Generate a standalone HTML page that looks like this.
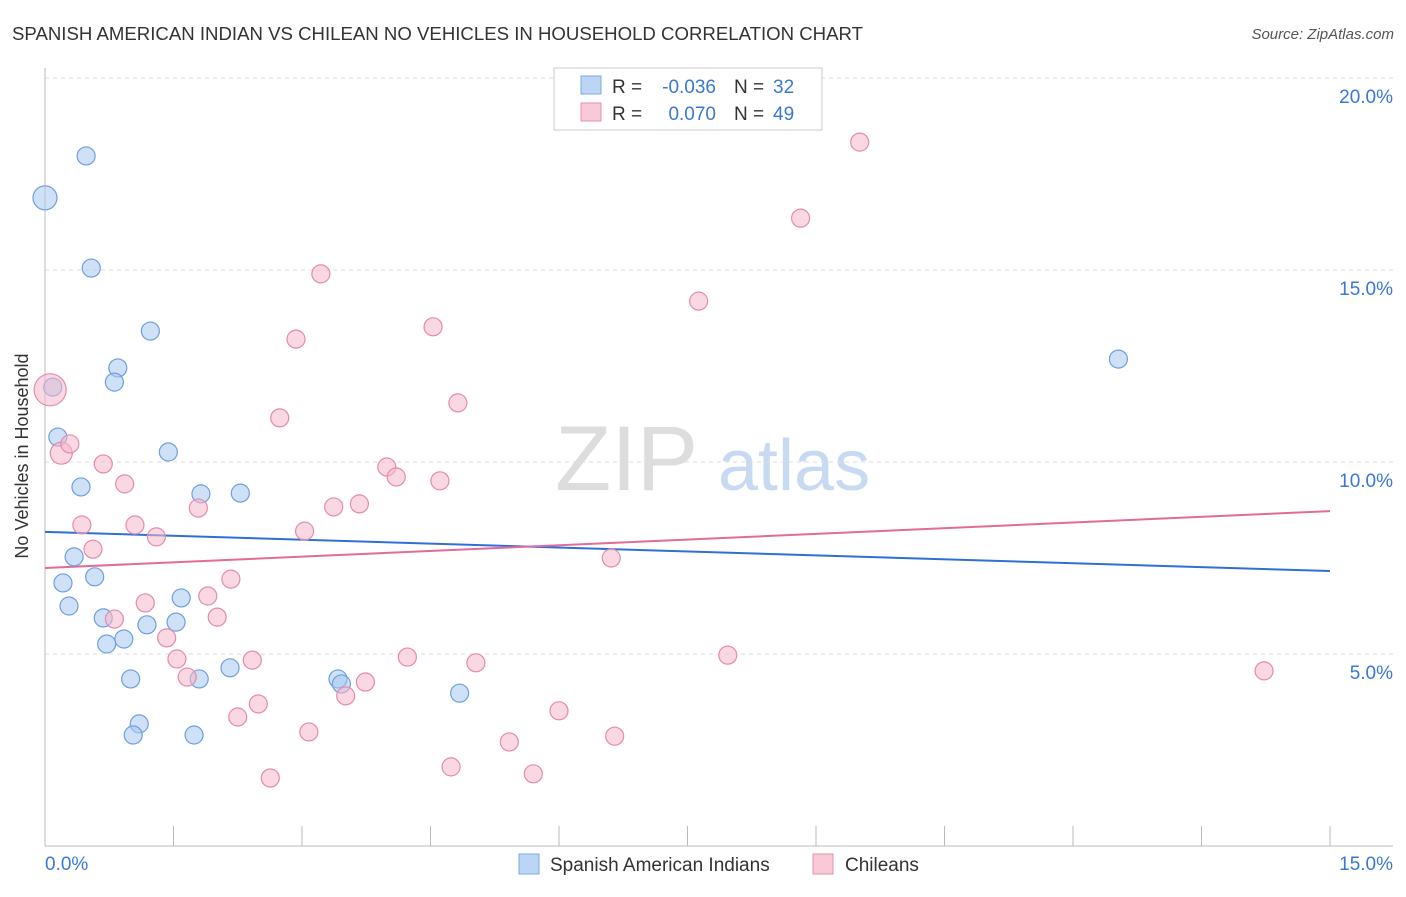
<!DOCTYPE html>
<html><head><meta charset="utf-8"><style>
body{margin:0;background:#fff;font-family:"Liberation Sans",sans-serif}
svg text{font-family:"Liberation Sans",sans-serif}
</style></head><body>
<svg id="c" width="1406" height="892" xmlns="http://www.w3.org/2000/svg">
<text x="12" y="40" font-size="18" fill="#333" textLength="851" lengthAdjust="spacingAndGlyphs">SPANISH AMERICAN INDIAN VS CHILEAN NO VEHICLES IN HOUSEHOLD CORRELATION CHART</text>
<text x="1394" y="39" font-size="15" font-style="italic" fill="#555" text-anchor="end">Source: ZipAtlas.com</text>
<g><text x="555" y="490" font-size="92" font-family="Liberation Serif" fill="#ddd">ZIP</text><text x="718" y="490" font-size="72" fill="#c8daf2">atlas</text></g>
<g id="grid"></g><g id="axes"></g><g id="lines"></g><g id="pts"></g>
<text x="28" y="456" font-size="18" fill="#333" text-anchor="middle" transform="rotate(-90 28 456)">No Vehicles in Household</text>
<g>
<rect x="554" y="68" width="268" height="62" fill="#fff" stroke="#ccc"/>
<rect x="581" y="76" width="20" height="18" fill="#bcd4f5" stroke="#7fa8e0"/>
<rect x="581" y="103" width="20" height="18" fill="#f9c9d8" stroke="#e890ae"/>
<text x="612" y="93" font-size="19" fill="#333">R =</text>
<text x="716" y="93" font-size="19" fill="#3a78d6" text-anchor="end">-0.036</text>
<text x="734" y="93" font-size="19" fill="#333">N =</text>
<text x="773" y="93" font-size="19" fill="#3a78d6">32</text>
<text x="612" y="120" font-size="19" fill="#333">R =</text>
<text x="716" y="120" font-size="19" fill="#3a78d6" text-anchor="end">0.070</text>
<text x="734" y="120" font-size="19" fill="#333">N =</text>
<text x="773" y="120" font-size="19" fill="#3a78d6">49</text>
</g>
<g>
<rect x="519" y="854" width="20" height="20" fill="#bcd4f5" stroke="#7fa8e0"/>
<text x="550" y="871" font-size="19" fill="#333">Spanish American Indians</text>
<rect x="813" y="854" width="20" height="20" fill="#f9c9d8" stroke="#e890ae"/>
<text x="845" y="871" font-size="19" fill="#333">Chileans</text>
</g>
</svg>
<script>
const blueX=[0.00,0.48,0.54,1.23,0.85,0.81,0.09,0.15,1.44,0.42,1.82,2.28,0.34,0.21,0.58,0.28,1.59,0.68,1.19,1.53,0.92,0.72,1.00,1.80,2.16,1.10,1.03,1.74,3.42,3.46,4.84,12.53];
const blueY=[16.88,17.97,15.05,13.41,12.45,12.08,11.95,10.65,10.26,9.35,9.17,9.19,7.53,6.85,7.01,6.25,6.46,5.94,5.76,5.83,5.39,5.26,4.35,4.35,4.64,3.18,2.89,2.89,4.35,4.22,3.98,12.68];
const pinkX=[0.06,0.19,0.29,0.43,0.56,0.68,0.93,1.05,1.30,0.81,1.17,1.42,1.54,1.66,1.79,1.90,2.01,2.17,2.25,2.42,2.49,2.63,2.74,2.93,3.03,3.08,3.22,3.37,3.51,3.67,3.74,3.99,4.10,4.23,4.53,4.61,4.74,4.82,5.03,5.42,5.70,6.00,6.61,6.65,7.63,7.97,8.82,9.51,14.23];
const pinkY=[11.88,10.23,10.47,8.36,7.73,9.95,9.43,8.36,8.05,5.91,6.33,5.42,4.87,4.40,8.80,6.51,5.96,6.95,3.36,4.84,3.70,1.77,11.15,13.20,8.20,2.97,14.90,8.83,3.91,8.91,4.27,9.87,9.61,4.92,13.52,9.51,2.06,11.54,4.77,2.71,1.88,3.52,7.50,2.86,14.19,4.97,16.35,18.33,4.56];
const blueTrend=[8.18,7.16];
const pinkTrend=[7.24,8.72];
const yTicks=[5,10,15,20];
const xTickLabels=["0.0%","15.0%"];
const NS="http://www.w3.org/2000/svg";
const sx=v=>45+v*85.667, sy=v=>846-v*38.4;
function mk(p,t,a){const e=document.createElementNS(NS,t);for(const k in a)e.setAttribute(k,a[k]);document.getElementById(p).appendChild(e);return e;}
yTicks.forEach(t=>{
 const l=mk('grid','line',{x1:45,x2:1393,y1:sy(t),y2:sy(t),stroke:'#ddd','stroke-dasharray':'4,4'});
 
 
 const tx=mk('grid','text',{x:1393,y:sy(t)+25,'font-size':19,fill:'#3a78d6','text-anchor':'end'});
 tx.textContent=t.toFixed(1)+'%';
 
 
});
let a=mk('axes','line',{x1:45,x2:45,y1:68,y2:846,stroke:'#bbb'});

a=mk('axes','line',{x1:45,x2:1393,y1:846,y2:846,stroke:'#bbb'});

for(let i=0;i<=10;i++){const t=mk('axes','line',{x1:sx(i*1.5),x2:sx(i*1.5),y1:826,y2:846,stroke:'#bbb'});
 }
[[0,'start',45],[15,'end',1393]].forEach((d,i)=>{const t=mk('axes','text',{x:d[2],y:870,'font-size':19,fill:'#3a78d6','text-anchor':d[1]});
 t.textContent=xTickLabels[i];});
function pts(X,Y,fill,stroke,name,big){X.forEach((x,i)=>{const c=mk('pts','circle',{cx:sx(x),cy:sy(Y[i]),r:(big[i]||9),fill:fill,'fill-opacity':0.55,stroke:stroke,'stroke-width':1.2});
 });}
pts(blueX,blueY,'#a8c8f0','#6f9ee0','spanish-american-indian-point',{0:12});
pts(pinkX,pinkY,'#f5b8cc','#e58aab','chilean-point',{0:16,1:11});
let L=mk('lines','line',{x1:sx(0),y1:sy(blueTrend[0]),x2:sx(15),y2:sy(blueTrend[1]),stroke:'#2f6fd6','stroke-width':2});

L=mk('lines','line',{x1:sx(0),y1:sy(pinkTrend[0]),x2:sx(15),y2:sy(pinkTrend[1]),stroke:'#e36b98','stroke-width':2});

</script>
</body></html>
